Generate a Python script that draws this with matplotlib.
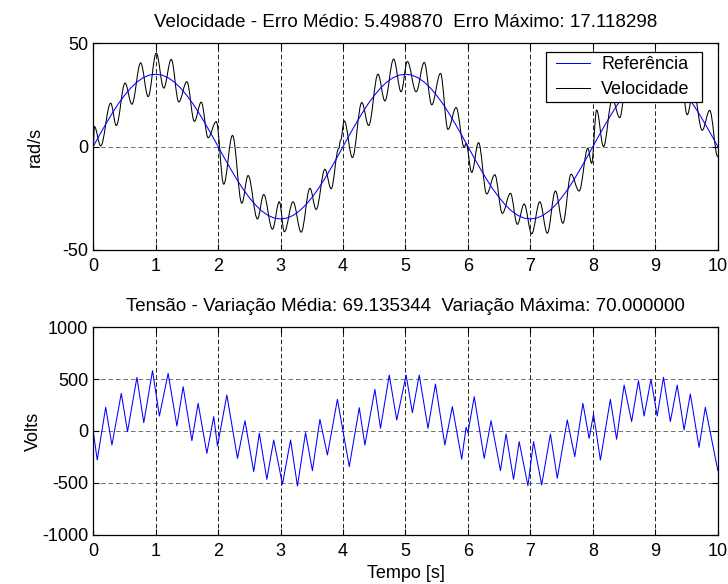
# coding = utf-8
from matplotlib import pyplot as plt
from matplotlib.path import Path
from matplotlib.patches import PathPatch
from matplotlib.lines import Line2D
from matplotlib.legend_handler import HandlerLine2D

plt.rcParams['font.family'] = ['Liberation Sans', 'DejaVu Sans']
plt.rcParams['font.size'] = 13
plt.rcParams['axes.unicode_minus'] = False

# referencia de velocidade (rad/s), amostrada a cada 0.1 s
ref_t = [i / 10 for i in range(101)]
ref_v = [0, 5.5, 10.8, 15.9, 20.6, 24.7, 28.3, 31.2, 33.3, 34.6,
         35, 34.6, 33.3, 31.2, 28.3, 24.7, 20.6, 15.9, 10.8, 5.5,
         0, -5.5, -10.8, -15.9, -20.6, -24.7, -28.3, -31.2, -33.3, -34.6,
         -35, -34.6, -33.3, -31.2, -28.3, -24.7, -20.6, -15.9, -10.8, -5.5,
         0, 5.5, 10.8, 15.9, 20.6, 24.7, 28.3, 31.2, 33.3, 34.6,
         35, 34.6, 33.3, 31.2, 28.3, 24.7, 20.6, 15.9, 10.8, 5.5,
         0, -5.5, -10.8, -15.9, -20.6, -24.7, -28.3, -31.2, -33.3, -34.6,
         -35, -34.6, -33.3, -31.2, -28.3, -24.7, -20.6, -15.9, -10.8, -5.5,
         0, 5.5, 10.8, 15.9, 20.6, 24.7, 28.3, 31.2, 33.3, 34.6,
         35, 34.6, 33.3, 31.2, 28.3, 24.7, 20.6, 15.9, 10.8, 5.5,
         0]

# velocidade medida (picos e vales)
vel_t = [0.00, 0.02, 0.12, 0.28, 0.37, 0.51, 0.62, 0.76, 0.88, 1.01,
         1.13, 1.25, 1.37, 1.50, 1.62, 1.73, 1.84, 1.97, 2.09, 2.23,
         2.38, 2.48, 2.63, 2.73, 2.87, 2.98, 3.06, 3.20, 3.33, 3.47,
         3.57, 3.71, 3.81, 3.93, 3.96, 4.02, 4.15, 4.30, 4.41, 4.56,
         4.67, 4.81, 4.93, 5.03, 5.17, 5.30, 5.42, 5.56, 5.68, 5.81,
         5.94, 5.97, 6.06, 6.17, 6.30, 6.43, 6.55, 6.68, 6.79, 6.90,
         7.02, 7.15, 7.27, 7.40, 7.52, 7.65, 7.78, 7.92, 7.98, 8.06,
         8.17, 8.31, 8.43, 8.55, 8.67, 8.78, 8.87, 8.98, 9.08, 9.18,
         9.29, 9.40, 9.51, 9.61, 9.75, 9.87, 10.0]
vel_v = [0, 9.7, 0.3, 21, 10.2, 30.7, 20.5, 40.5, 24.2, 45.2,
         28.3, 42.2, 21.6, 31.4, 12.2, 21.5, 4.3, 12.1, -18.2, 5.4,
         -27.4, -14, -35, -23.2, -40, -26.7, -41.2, -26.7, -41.4, -20.2,
         -30.4, -11, -20.4, -1, 3, 12.4, -5.3, 21.3, 10.2, 35,
         22.1, 42.3, 26.5, 41.2, 26.5, 40.7, 20.2, 35.4, 8.3, 18.9,
         -0.3, 1.5, -12.5, 1.9, -22.9, -13.6, -32.3, -22.6, -37.6, -27.8,
         -42.2, -26.7, -41.9, -21.5, -37.1, -13.4, -21.5, -0.8, -8.1, 17.7,
         0, 23, 14, 34.6, 21.4, 42, 25.3, 45, 26.7, 42.6,
         22.4, 36.3, 15.4, 27, 7.9, 17.5, -5]

# tensao aplicada (vertices da serra)
volt_t = [0.00, 0.065, 0.20, 0.30, 0.45, 0.55, 0.70, 0.81, 0.95, 1.06,
          1.20, 1.34, 1.44, 1.58, 1.68, 1.82, 1.93, 1.99, 2.14, 2.31,
          2.43, 2.57, 2.66, 2.78, 2.89, 3.03, 3.16, 3.27, 3.40, 3.51,
          3.63, 3.75, 3.91, 4.10, 4.26, 4.35, 4.51, 4.60, 4.74, 4.86,
          5.01, 5.11, 5.22, 5.36, 5.48, 5.63, 5.75, 5.90, 5.97, 6.00,
          6.10, 6.26, 6.37, 6.52, 6.61, 6.73, 6.82, 6.96, 7.05, 7.18,
          7.32, 7.43, 7.59, 7.71, 7.84, 7.94, 8.01, 8.12, 8.28, 8.38,
          8.50, 8.62, 8.73, 8.82, 8.93, 9.03, 9.13, 9.24, 9.35, 9.46,
          9.56, 9.70, 9.80, 10.0]
volt_v = [0, -279, 228, -135, 362, -6, 516, 80, 580, 144,
          554, 48, 426, -93, 266, -215, 138, -144, 346, -263,
          99, -391, -22, -465, -87, -513, -87, -529, -16, -381,
          112, -231, 304, -343, 224, -135, 400, 26, 538, 106,
          538, 176, 538, 26, 452, -135, 234, -272, 35, -16,
          330, -263, 99, -381, -29, -465, -103, -527, -103, -519,
          -29, -455, 106, -247, 266, -71, 163, -279, 304, -80,
          442, 90, 484, 144, 497, 144, 516, 90, 442, 10,
          356, -157, 228, -380]

x_ticks = range(0, 11)
top_yticks = [-50, 0, 50]
bot_yticks = [-1000, -500, 0, 500, 1000]

top_title = 'Velocidade - Erro Médio: 5.498870  Erro Máximo: 17.118298'
bot_title = 'Tensão - Variação Média: 69.135344  Variação Máxima: 70.000000'

fig = plt.figure(figsize=(7.28, 5.84), dpi=100)


def estilo(ax, yticks):
    # eixos estilo matlab: ticks para dentro em todos os lados e grade tracejada
    ax.set_xlim(0, 10)
    ax.set_xticks(x_ticks)
    ax.set_yticks(yticks)
    ax.tick_params(direction='in', top=True, right=True, length=4, width=0.8, labelsize=13)
    ax.tick_params(axis='x', pad=5.5)
    ax.tick_params(axis='y', pad=3.5)
    for s in ax.spines.values():
        s.set_linewidth(0.9)
    ax.xaxis.grid(True, color='k', linestyle=(0, (5.5, 3)), linewidth=0.6)
    ax.yaxis.grid(True, color='0.35', linestyle=(0, (5.5, 3.5)), linewidth=0.6)
    ax.set_axisbelow(True)


def curva_suave(ax, xs, ys, **kw):
    # liga os picos e vales com curvas de bezier (tangente horizontal em cada ponto)
    verts = [(xs[0], ys[0])]
    codes = [Path.MOVETO]
    for i in range(len(xs) - 1):
        d = (xs[i + 1] - xs[i]) * 0.363
        verts += [(xs[i] + d, ys[i]), (xs[i + 1] - d, ys[i + 1]), (xs[i + 1], ys[i + 1])]
        codes += [Path.CURVE4] * 3
    ax.add_patch(PathPatch(Path(verts, codes), fill=False, **kw))


# grafico de cima
ax1 = fig.add_axes([0.128, 0.572, 0.858, 0.354])
ax1.plot(ref_t, ref_v, color='#0000ff', linewidth=0.75, label='Referência')
curva_suave(ax1, vel_t, vel_v, edgecolor='k', linewidth=0.75)
ax1.plot([], [], color='k', linewidth=0.75, label='Velocidade')
ax1.set_ylim(-50, 50)
estilo(ax1, top_yticks)
ax1.set_ylabel('rad/s')
ax1.yaxis.set_label_coords(-0.079, 0.5)
ax1.set_title(top_title, fontsize=13.5, pad=11.7)
leg = ax1.legend(loc='upper left', bbox_to_anchor=(0.7246, 0.5, 0.2501, 0.4565), mode='expand',
                 fancybox=False, shadow=False, framealpha=1, edgecolor='k', fontsize=13,
                 handlelength=2.23, borderpad=0.2, labelspacing=0.46, borderaxespad=0,
                 handletextpad=0.65, handler_map={Line2D: HandlerLine2D(xpad=0.39)})
leg.get_frame().set_linewidth(0.9)

# grafico de baixo
ax2 = fig.add_axes([0.128, 0.084, 0.858, 0.356])
ax2.plot(volt_t, volt_v, color='#0000ff', linewidth=0.75)
ax2.set_ylim(-1000, 1000)
estilo(ax2, bot_yticks)
ax2.set_ylabel('Volts')
ax2.yaxis.set_label_coords(-0.082, 0.5)
ax2.set_xlabel('Tempo [s]')
ax2.xaxis.set_label_coords(0.5, -0.144)
ax2.set_title(bot_title, fontsize=13.5, pad=11.7)

plt.savefig('out.png')
